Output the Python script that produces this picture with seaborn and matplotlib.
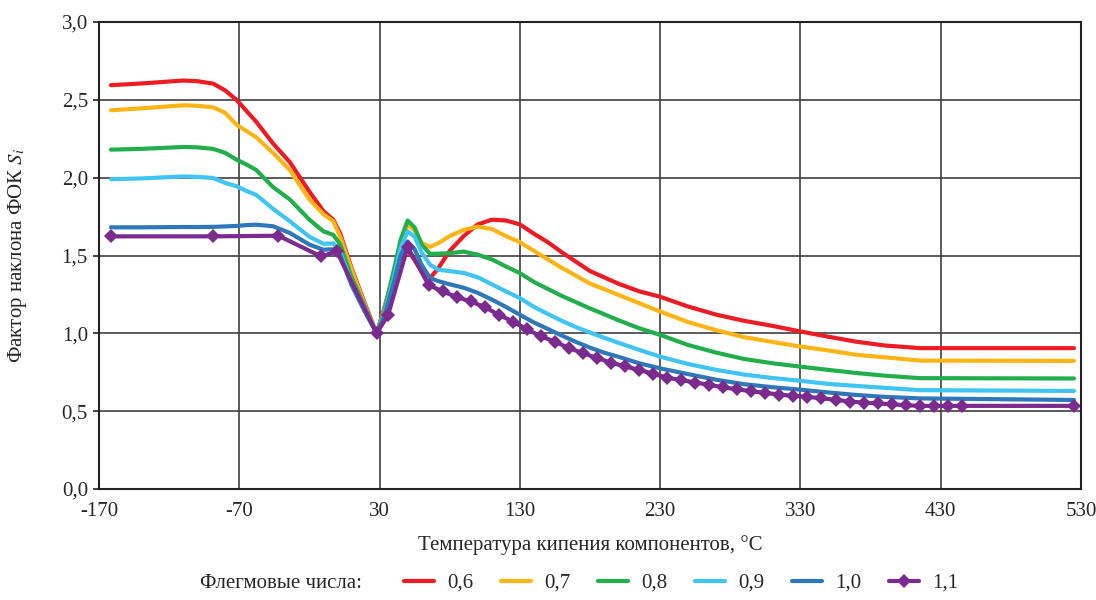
import matplotlib
matplotlib.use("Agg")
import matplotlib.pyplot as plt
import seaborn as sns
from matplotlib.ticker import FuncFormatter

# boiling temperature grid for the smooth curves
t_lines = [-161.5, -140, -110, -100, -88.6, -80, -72, -65, -58, -46, -34, -20,
           -10, -3, 2, 10, 20, 27.9, 33, 40, 45, 50, 55, 60, 66, 72, 80, 90,
           100, 110, 120, 130, 140, 150, 160, 170, 180, 190, 200, 215, 230,
           250, 270, 290, 310, 330, 350, 370, 390, 415, 525]

s_06 = [2.594, 2.605, 2.624, 2.62, 2.604, 2.56, 2.50, 2.43, 2.36, 2.22, 2.10, 1.91,
        1.785, 1.73, 1.64, 1.42, 1.18, 1.00, 1.15, 1.38, 1.48, 1.535, 1.47, 1.40,
        1.355, 1.42, 1.53, 1.625, 1.70, 1.73, 1.725, 1.70, 1.64, 1.585, 1.52,
        1.46, 1.40, 1.36, 1.32, 1.27, 1.235, 1.172, 1.12, 1.08, 1.048, 1.012,
        0.978, 0.946, 0.922, 0.905, 0.905]
s_07 = [2.433, 2.445, 2.465, 2.462, 2.452, 2.416, 2.34, 2.30, 2.26, 2.16, 2.05, 1.86,
        1.765, 1.72, 1.62, 1.41, 1.17, 1.00, 1.14, 1.38, 1.56, 1.70, 1.66, 1.58,
        1.555, 1.58, 1.625, 1.665, 1.685, 1.67, 1.625, 1.585, 1.53, 1.475, 1.42,
        1.37, 1.32, 1.284, 1.248, 1.194, 1.14, 1.072, 1.02, 0.975, 0.945, 0.915,
        0.89, 0.862, 0.846, 0.825, 0.823]
s_08 = [2.18, 2.185, 2.197, 2.195, 2.185, 2.159, 2.116, 2.085, 2.05, 1.94, 1.86, 1.73,
        1.655, 1.633, 1.57, 1.36, 1.16, 1.00, 1.13, 1.40, 1.60, 1.725, 1.68, 1.57,
        1.51, 1.512, 1.515, 1.525, 1.505, 1.475, 1.43, 1.387, 1.33, 1.285, 1.24,
        1.20, 1.16, 1.123, 1.085, 1.033, 0.99, 0.925, 0.876, 0.835, 0.808, 0.786,
        0.765, 0.745, 0.728, 0.712, 0.71]
s_09 = [1.99, 1.995, 2.008, 2.005, 1.998, 1.966, 1.945, 1.915, 1.89, 1.80, 1.72, 1.62,
        1.575, 1.578, 1.52, 1.33, 1.15, 1.00, 1.11, 1.35, 1.55, 1.655, 1.62, 1.52,
        1.44, 1.408, 1.40, 1.388, 1.36, 1.315, 1.27, 1.226, 1.17, 1.124, 1.08,
        1.04, 1.005, 0.972, 0.94, 0.894, 0.85, 0.803, 0.765, 0.735, 0.713, 0.695,
        0.675, 0.662, 0.65, 0.635, 0.63]
s_10 = [1.681, 1.681, 1.683, 1.683, 1.684, 1.687, 1.69, 1.695, 1.698, 1.688, 1.645, 1.57,
        1.537, 1.54, 1.50, 1.31, 1.13, 1.00, 1.10, 1.32, 1.50, 1.59, 1.54, 1.44,
        1.355, 1.335, 1.315, 1.293, 1.26, 1.217, 1.17, 1.119, 1.07, 1.028, 0.985,
        0.945, 0.908, 0.876, 0.85, 0.808, 0.775, 0.738, 0.702, 0.673, 0.654, 0.638,
        0.62, 0.604, 0.592, 0.582, 0.572]

# the 1,1 series is drawn with markers at its own data points
t_11 = [-161.5, -88.6, -42.1, -11.7, -0.5, 27.9, 36.1, 50, 65,
        75, 85, 95, 105, 115, 125, 135, 145, 155, 165,
        175, 185, 195, 205, 215, 225, 235, 245, 255, 265,
        275, 285, 295, 305, 315, 325, 335, 345, 355, 365,
        375, 385, 395, 405, 415, 425, 435, 445, 525]
s_11 = [1.623, 1.623, 1.627, 1.494, 1.526, 1.0, 1.119, 1.555, 1.31,
        1.269, 1.233, 1.205, 1.168, 1.119, 1.076, 1.027, 0.98, 0.947, 0.905,
        0.873, 0.841, 0.812, 0.787, 0.765, 0.74, 0.715, 0.70, 0.684, 0.669,
        0.653, 0.64, 0.628, 0.617, 0.607, 0.598, 0.592, 0.583, 0.573, 0.562,
        0.555, 0.55, 0.544, 0.538, 0.534, 0.534, 0.534, 0.534, 0.534]

labels = ["0,6", "0,7", "0,8", "0,9", "1,0", "1,1"]
colors = ["#ED1C24", "#FDB515", "#21AE4B", "#3FC4F3", "#2E78BA", "#7B2A8E"]

sns.set_style("white")
plt.rcParams['font.family'] = ['Liberation Serif', 'DejaVu Serif']
plt.rcParams['mathtext.fontset'] = 'stix'
plt.rcParams['axes.unicode_minus'] = False

W, H = 1096, 600
fig = plt.figure(figsize=(W / 100, H / 100), dpi=100)
ax = fig.add_axes([99 / W, 1 - 489 / H, (1081 - 99) / W, (489 - 22) / H])

line_kw = dict(lw=3, sort=False, estimator=None,
               solid_capstyle="round", solid_joinstyle="round")
series = [s_06, s_07, s_08, s_09, s_10]
for vals, lab, col in zip(series, labels[:5], colors[:5]):
    sns.lineplot(x=t_lines, y=vals, ax=ax, color=col, label=lab, **line_kw)
sns.lineplot(x=t_11, y=s_11, ax=ax, color=colors[5], label=labels[5],
             marker="D", markersize=7, markeredgewidth=0, **line_kw)

ax.set_xlim(-170, 530)
ax.set_ylim(0, 3)
ax.set_xticks(range(-170, 531, 100))
ax.set_yticks([0, 0.5, 1.0, 1.5, 2.0, 2.5, 3.0])
ax.yaxis.set_major_formatter(FuncFormatter(lambda v, p: f"{v:.1f}".replace(".", ",")))
ax.grid(True, color="#404040", lw=1.2)
ax.set_axisbelow(True)
for sp in ax.spines.values():
    sp.set_visible(True)
    sp.set_color("#222222")
    sp.set_linewidth(1.5)
ax.tick_params(axis="y", length=4, width=1.2, direction="out", pad=4,
               labelsize=15, left=True, color="#222222")
ax.tick_params(axis="x", length=0, pad=9, labelsize=15)
ax.set_xlabel("")
ax.set_ylabel("")

fig.text(590 / W, 1 - 545 / H, "Температура кипения компонентов, °C",
         ha="center", va="center", fontsize=15)
fig.text(18 / W, 1 - 255 / H, "Фактор наклона ФОК $S_i$", rotation=90,
         ha="center", va="center", fontsize=15)

handles, labs = ax.get_legend_handles_labels()
if ax.get_legend() is not None:
    ax.get_legend().remove()
fig.legend(handles, labs, loc="center", bbox_to_anchor=(681 / W, 1 - 583 / H),
           ncol=6, frameon=False, fontsize=15, handlelength=1.45,
           handletextpad=0.6, columnspacing=1.35)
fig.text(200 / W, 1 - 583 / H, "Флегмовые числа:", ha="left", va="center",
         fontsize=15)

fig.savefig("out.png", dpi=100)
